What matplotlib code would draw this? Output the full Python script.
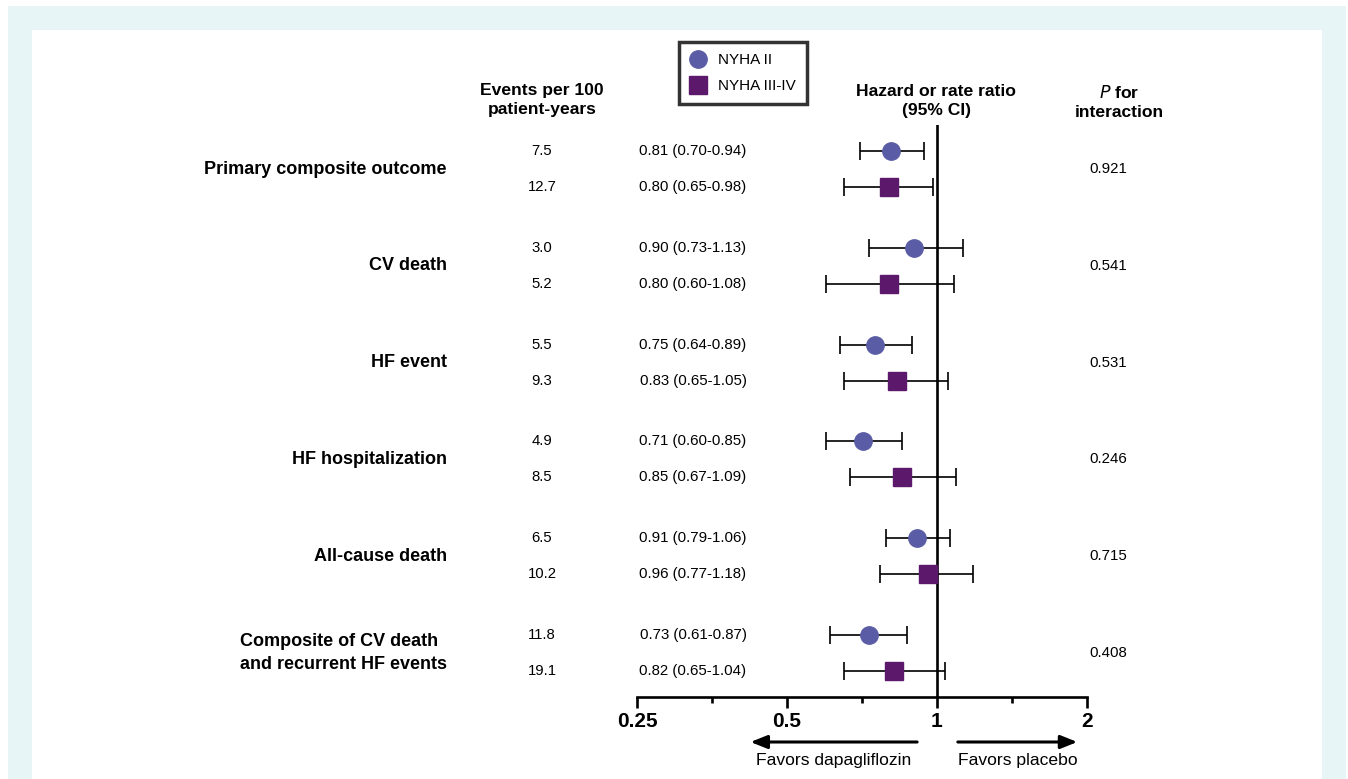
import matplotlib.pyplot as plt
import matplotlib.transforms as mtransforms
from matplotlib.lines import Line2D
from matplotlib.patches import Rectangle
import numpy as np

plt.rcParams['font.family'] = ['Liberation Sans', 'DejaVu Sans']

outcomes = ["Primary composite outcome", "CV death", "HF event",
            "HF hospitalization", "All-cause death",
            "Composite of CV death\nand recurrent HF events"]

# NYHA II
hr_ii = [0.81, 0.90, 0.75, 0.71, 0.91, 0.73]
lo_ii = [0.70, 0.73, 0.64, 0.60, 0.79, 0.61]
hi_ii = [0.94, 1.13, 0.89, 0.85, 1.06, 0.87]
ev_ii = ["7.5", "3.0", "5.5", "4.9", "6.5", "11.8"]

# NYHA III-IV
hr_iii = [0.80, 0.80, 0.83, 0.85, 0.96, 0.82]
lo_iii = [0.65, 0.60, 0.65, 0.67, 0.77, 0.65]
hi_iii = [0.98, 1.08, 1.05, 1.09, 1.18, 1.04]
ev_iii = ["12.7", "5.2", "9.3", "8.5", "10.2", "19.1"]

p_int = ["0.921", "0.541", "0.531", "0.246", "0.715", "0.408"]

xticks = [0.25, 0.5, 1, 2]
xticklabels = ["0.25", "0.5", "1", "2"]

c_ii = "#5a5da5"
c_iii = "#5c186b"

W, H = 1348, 779
fig = plt.figure(figsize=(W / 100, H / 100), dpi=100)

# background frame
fig.patches.append(Rectangle((8 / W, 0), 1338 / W, 1 - 6 / H, transform=fig.transFigure,
                             facecolor="#e8f5f7", edgecolor="none", zorder=-2))
fig.patches.append(Rectangle((32 / W, 0), 1290 / W, 1 - 30 / H, transform=fig.transFigure,
                             facecolor="white", edgecolor="none", zorder=-1))

ax = fig.add_axes([637 / W, 1 - 697 / H, 450 / W, 572 / H])
ax.set_facecolor("none")
ax.set_xscale("log", base=2)
ax.set_xlim(0.25, 2)
ax.set_ylim(5.64, -0.269)

gap = 0.372
y_ii = np.arange(6)
y_iii = np.arange(6) + gap
y_mid = np.arange(6) + gap / 2

hr_ii_a, hr_iii_a = np.array(hr_ii), np.array(hr_iii)
ax.errorbar(hr_ii_a, y_ii, xerr=[hr_ii_a - np.array(lo_ii), np.array(hi_ii) - hr_ii_a],
            fmt='o', color=c_ii, ms=12.5, ecolor='black', elinewidth=1.2,
            capsize=6.5, capthick=1.2, zorder=3)
ax.errorbar(hr_iii_a, y_iii, xerr=[hr_iii_a - np.array(lo_iii), np.array(hi_iii) - hr_iii_a],
            fmt='s', color=c_iii, ms=13, ecolor='black', elinewidth=1.2,
            capsize=6.5, capthick=1.2, zorder=3)
ax.axvline(1, color='black', lw=1.9, zorder=2)

for s in ["top", "right", "left"]:
    ax.spines[s].set_visible(False)
ax.spines["bottom"].set_linewidth(1.9)
ax.set_yticks([])
ax.set_xticks(xticks)
ax.set_xticklabels(xticklabels, fontsize=15, fontweight='bold')
ax.set_xticks([0.25 * 2 ** 0.5, 0.5 * 2 ** 0.5, 2 ** 0.5], minor=True)
ax.xaxis.set_minor_formatter(plt.NullFormatter())
ax.tick_params(axis='x', which='major', length=8, width=1.9, pad=3)
ax.tick_params(axis='x', which='minor', length=4.5, width=1.9)

# text columns
tr = mtransforms.blended_transform_factory(fig.transFigure, ax.transData)
for i in range(6):
    ax.text(447 / W, y_mid[i], outcomes[i], transform=tr, ha='right', va='center',
            multialignment='left', fontsize=13, fontweight='bold', linespacing=1.4)
    ax.text(542 / W, y_ii[i], ev_ii[i], transform=tr, ha='center', va='center', fontsize=10.7)
    ax.text(542 / W, y_iii[i], ev_iii[i], transform=tr, ha='center', va='center', fontsize=10.7)
    ax.text(693 / W, y_ii[i], f"{hr_ii[i]:.2f} ({lo_ii[i]:.2f}-{hi_ii[i]:.2f})",
            transform=tr, ha='center', va='center', fontsize=10.8)
    ax.text(693 / W, y_iii[i], f"{hr_iii[i]:.2f} ({lo_iii[i]:.2f}-{hi_iii[i]:.2f})",
            transform=tr, ha='center', va='center', fontsize=10.8)
    ax.text(1108 / W, y_mid[i], p_int[i], transform=tr, ha='center', va='center', fontsize=10.8)

# headers
fig.text(542 / W, 1 - 100 / H, "Events per 100\npatient-years", ha='center', va='center',
         fontsize=12.6, fontweight='bold', linespacing=1.35)
fig.text(936 / W, 1 - 101 / H, "Hazard or rate ratio\n(95% CI)", ha='center', va='center',
         fontsize=12.6, fontweight='bold', linespacing=1.35)
fig.text(1119 / W, 1 - 102 / H, r"$\bf{\it{P}}$ for" + "\ninteraction", ha='center', va='center',
         fontsize=12.6, fontweight='bold', linespacing=1.35)

# favors arrows
tra = mtransforms.blended_transform_factory(ax.transData, fig.transFigure)
ax.annotate("", xy=(0.417, 1 - 742 / H), xytext=(0.924, 1 - 742 / H),
            xycoords=tra, textcoords=tra, annotation_clip=False,
            arrowprops=dict(arrowstyle='-|>,head_length=1.0,head_width=0.4', color='black', lw=2.2))
ax.annotate("", xy=(1.937, 1 - 742 / H), xytext=(1.087, 1 - 742 / H),
            xycoords=tra, textcoords=tra, annotation_clip=False,
            arrowprops=dict(arrowstyle='-|>,head_length=1.0,head_width=0.4', color='black', lw=2.2))
fig.text(834 / W, 1 - 760 / H, "Favors dapagliflozin", ha='center', va='center', fontsize=12.6)
fig.text(1018 / W, 1 - 760 / H, "Favors placebo", ha='center', va='center', fontsize=12.6)

# legend
handles = [Line2D([], [], ls='none', marker='o', ms=12.5, color=c_ii, label="NYHA II"),
           Line2D([], [], ls='none', marker='s', ms=12.5, color=c_iii, label="NYHA III-IV")]
leg = fig.legend(handles=handles, loc='upper left', bbox_to_anchor=(679 / W, 1 - 42 / H),
                 frameon=True, fancybox=False, edgecolor='black', fontsize=11,
                 borderpad=0.75, handlelength=1.0, handletextpad=0.8, labelspacing=0.75,
                 borderaxespad=0)
leg.get_frame().set_linewidth(2.5)

fig.savefig("out.png", dpi=100)
